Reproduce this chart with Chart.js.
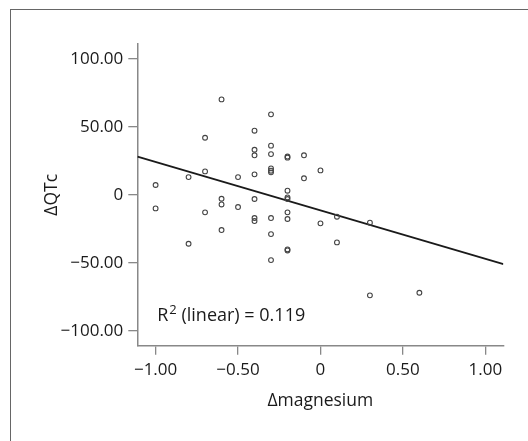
<!DOCTYPE html>
<html>
<head>
<meta charset="utf-8">
<script src="https://cdn.jsdelivr.net/npm/chart.js@4"></script>
<style>
  html, body { margin: 0; padding: 0; background: #fff; }
  #wrap { position: relative; width: 528px; height: 441px; overflow: hidden; }
  #frame { position: absolute; left: 10px; top: 9px; width: 600px; height: 500px; border-left: 1px solid #666; border-top: 1px solid #666; }
  #chart { position: absolute; left: 0; top: 0; }
</style>
</head>
<body>
<div id="wrap">
  <div id="frame"></div>
  <canvas id="chart" width="528" height="441"></canvas>
</div>
<script>
// scatter values
const magX = [-0.6, -0.3, -0.4, -0.7, -0.4, -0.4, -0.3, -0.3, -0.2, -0.2,
  -0.1, -0.3, -0.3, -0.3, 0.0, -0.7, -0.8, -0.5, -0.4, -0.1,
  -1.0, -0.2, -0.2, -0.2, -0.6, -0.6, -0.4, -1.0, -0.5, -0.7,
  -0.2, -0.4, -0.4, -0.3, -0.2, 0.1, 0.0, 0.3, -0.6, -0.3,
  0.1, -0.8, -0.2, -0.2, -0.3, 0.3, 0.6];
const qtcY = [70.3, 59.3, 47.3, 42.1, 33.3, 29.2, 36.3, 30.1, 28.3, 27.5,
  29.2, 19.6, 17.9, 16.7, 18.1, 17.4, 13.2, 13.2, 15.2, 12.3,
  7.4, 3.2, -1.7, -2.9, -2.7, -6.9, -2.9, -9.8, -8.8, -12.7,
  -12.7, -16.9, -19.1, -16.9, -17.6, -15.9, -20.8, -20.3, -25.7, -28.7,
  -34.8, -35.8, -39.9, -40.7, -47.8, -73.7, -71.8];

// fit line end points
const fitX = [-1.11, 1.11];
const fitY = [28.2, -50.7];

const xTicks = [-1, -0.5, 0, 0.5, 1];
const yTicks = [-100, -50, 0, 50, 100];
const r2Label = ["R", "2", " (linear) = 0.119"];

const FONT = "'Open Sans', 'Noto Sans', sans-serif";
const TXT = "#1a1a1a";

function fmt(v) {
  if (v == 0) return "0";
  const s = Math.abs(v).toFixed(2);
  return v < 0 ? "\u2212" + s : s;
}

const r2Plugin = {
  id: "r2",
  afterDatasetsDraw(chart) {
    const ctx = chart.ctx;
    const x = chart.scales.x.getPixelForValue(-0.99);
    const y = chart.scales.y.getPixelForValue(-88.5);
    ctx.save();
    ctx.fillStyle = TXT;
    ctx.textBaseline = "middle";
    ctx.textAlign = "left";
    ctx.font = "18px " + FONT;
    ctx.fillText(r2Label[0], x, y);
    let w = ctx.measureText(r2Label[0]).width;
    ctx.font = "13px " + FONT;
    ctx.fillText(r2Label[1], x + w + 1, y - 5);
    w += ctx.measureText(r2Label[1]).width + 1;
    ctx.font = "18px " + FONT;
    ctx.fillText(r2Label[2], x + w, y);
    ctx.restore();
  }
};

const chart = new Chart(document.getElementById("chart"), {
  type: "scatter",
  data: {
    datasets: [
      {
        data: magX.map((v, i) => ({ x: v, y: qtcY[i] })),
        pointStyle: "circle",
        pointRadius: 2.4,
        pointBorderWidth: 1.1,
        pointBorderColor: "#444",
        pointBackgroundColor: "rgba(255,255,255,0)",
        showLine: false
      },
      {
        data: fitX.map((v, i) => ({ x: v, y: fitY[i] })),
        showLine: true,
        borderColor: "#1a1a1a",
        borderWidth: 1.8,
        pointRadius: 0,
        fill: false
      }
    ]
  },
  options: {
    responsive: false,
    animation: false,
    layout: { padding: { left: 0, top: 44, right: 24.7, bottom: 0 } },
    plugins: { legend: { display: false }, tooltip: { enabled: false } },
    scales: {
      x: {
        min: -1.111,
        max: 1.109,
        afterBuildTicks: (s) => { s.ticks = xTicks.map(v => ({ value: v })); },
        afterFit: (s) => { s.height = 95.3; },
        ticks: { callback: (v) => fmt(v), color: TXT, font: { family: FONT, size: 17 }, padding: 5, maxRotation: 0, autoSkip: false },
        grid: { drawOnChartArea: false, drawTicks: true, tickLength: 9, color: "#888", lineWidth: 1.3 },
        border: { display: true, color: "#888", width: 1.5 },
        title: { display: true, text: "\u0394magnesium", color: TXT, font: { family: FONT, size: 17.5 }, padding: { top: 0, bottom: 29 } }
      },
      y: {
        min: -110.7,
        max: 111,
        afterBuildTicks: (s) => { s.ticks = yTicks.map(v => ({ value: v })); },
        afterFit: (s) => { s.width = 137.3; },
        ticks: { callback: (v) => fmt(v), color: TXT, font: { family: FONT, size: 17 }, padding: 5, autoSkip: false },
        grid: { drawOnChartArea: false, drawTicks: true, tickLength: 9, color: "#888", lineWidth: 1.3 },
        border: { display: true, color: "#888", width: 1.5 },
        title: { display: true, text: "\u0394QTc", color: TXT, font: { family: FONT, size: 17.5 }, padding: { top: 42, bottom: 0 } }
      }
    }
  },
  plugins: [r2Plugin]
});
</script>
</body>
</html>
